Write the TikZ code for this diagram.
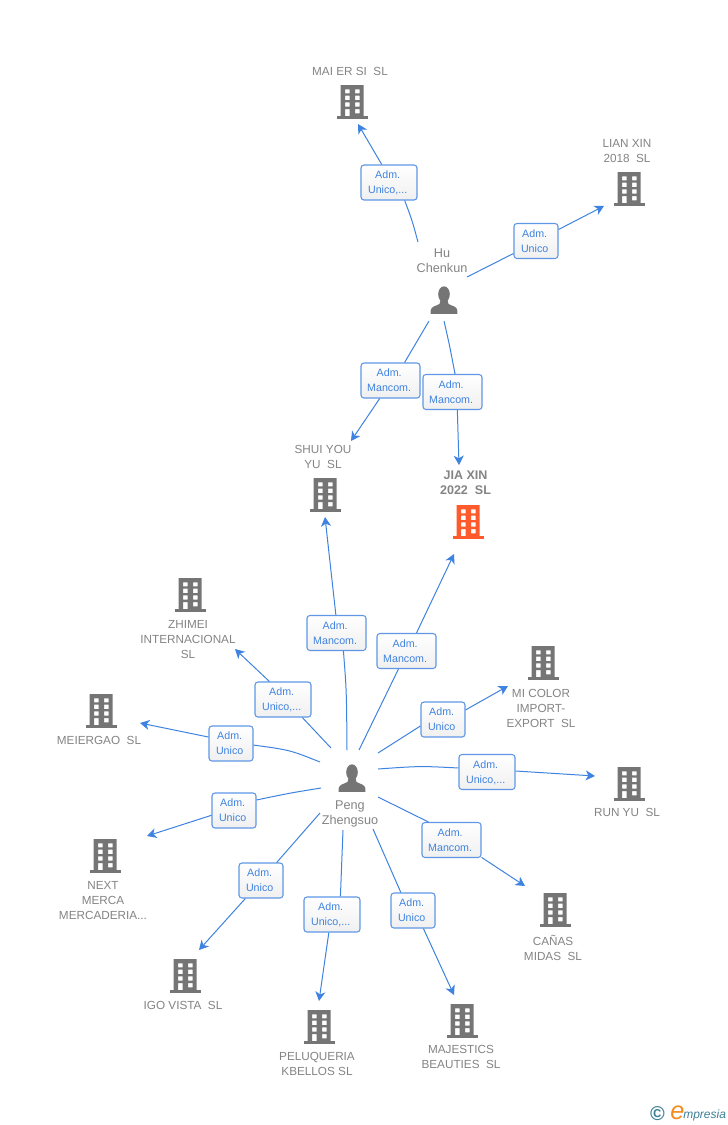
\documentclass[tikz,border=0pt]{standalone}
\usepackage{fontspec}
\setmainfont{Liberation Sans}
\usetikzlibrary{arrows.meta}
\definecolor{icongray}{HTML}{757575}
\definecolor{textgray}{HTML}{848484}
\definecolor{hotorange}{HTML}{FF5A2C}
\definecolor{linkblue}{HTML}{3F83E0}
\definecolor{boxblue}{HTML}{5F97E6}
\definecolor{logoteal}{HTML}{3F7F96}
\definecolor{logoorange}{HTML}{F58A1F}
\tikzset{
  x=0.75pt,y=-0.75pt,
  link/.style={draw=linkblue,line width=0.75pt},
  linkarrow/.style={link,-{Stealth[length=7pt,width=7.5pt,inset=2pt]}},
  role/.style={draw=boxblue,line width=0.8pt,rounded corners=2.2pt,top color=white,bottom color=black!6,
    text=linkblue,inner sep=0pt,minimum height=26.25pt,
    font=\fontsize{8}{11.25}\selectfont},
  roleS/.style={role,minimum width=33pt},
  roleM/.style={role,minimum width=42pt},
  roleL/.style={role,minimum width=44.25pt},
  company/.style={text=textgray,inner sep=0pt,align=center,font=\fontsize{8.8}{11.25}\selectfont},
  hotcompany/.style={company,font=\fontsize{9.4}{11.25}\selectfont\bfseries},
  personname/.style={text=textgray,inner sep=0pt,align=center,font=\fontsize{9.5}{11.25}\selectfont},
}
\newcommand{\roletext}[2]{\raisebox{-0.7pt}[\height][\depth]{\begin{tabular}{@{}c@{}}#1\\#2\end{tabular}}\hspace*{2pt}}
\newcommand{\bldg}[3]{%
  \begin{scope}[shift={(#1,#2)}]
    \fill[#3,even odd rule]
      (-11.3,0) rectangle (11.5,31.5)
      (-7,4.3) rectangle (-2.3,8.3) (3,4.3) rectangle (7.7,8.3)
      (-7,10.7) rectangle (-2.3,15) (3,10.7) rectangle (7.7,15)
      (-7,17.3) rectangle (-2.3,21.7) (3,17.3) rectangle (7.7,21.7)
      (-7,24) rectangle (-2.3,31.5) (3,24) rectangle (7.7,28.3);
    \fill[#3] (-15.3,31.3) rectangle (16.3,33.8);
  \end{scope}}
\newcommand{\persona}[2]{%
  \begin{scope}[shift={(#1,#2)}]
    \fill[icongray] (0,7.8) ellipse[x radius=5.8,y radius=8];
    \fill[icongray] (-13.3,27.3) -- (-13.3,24) .. controls (-13.3,20) and (-8,19.5) .. (-4.5,17.5)
      -- (-3,12) -- (3,12) -- (4.5,17.5) .. controls (8,19.5) and (13.3,20) .. (13.3,24) -- (13.3,27.3) -- cycle;
  \end{scope}}
\begin{document}
\begin{tikzpicture}
\path[use as bounding box,fill=white] (0,0) rectangle (728,1125);

% icons
\bldg{352}{85}{icongray}
\bldg{629}{172}{icongray}
\bldg{325}{478}{icongray}
\bldg{468}{505}{hotorange}
\bldg{190}{578}{icongray}
\bldg{101}{694}{icongray}
\bldg{105}{839}{icongray}
\bldg{185}{959}{icongray}
\bldg{319}{1010}{icongray}
\bldg{462}{1004}{icongray}
\bldg{555}{893}{icongray}
\bldg{629}{767}{icongray}
\bldg{543}{646}{icongray}
\persona{444}{286.5}
\persona{352}{764.5}

% names
\node[company] (maier) at (350,71.5) {MAI ER SI\ \ SL};
\node[company] (lian) at (627,151) {LIAN XIN\\2018\ \ SL};
\node[company] (shui) at (323,457) {SHUI YOU\\YU\ \ SL};
\node[hotcompany] (jia) at (465.5,483) {JIA XIN\\2022\ \ SL};
\node[company] (zhimei) at (188,639.5) {ZHIMEI\\INTERNACIONAL\\SL};
\node[company] (meier) at (99,740.5) {MEIERGAO\ \ SL};
\node[company] (next) at (103,900.5) {NEXT\\MERCA\\MERCADERIA...};
\node[company] (igo) at (183,1005.5) {IGO VISTA\ \ SL};
\node[company] (pelu) at (317,1064) {PELUQUERIA\\KBELLOS SL};
\node[company] (maje) at (461,1057) {MAJESTICS\\BEAUTIES\ \ SL};
\node[company] (canas) at (553,948) {CAÑAS\\MIDAS\ \ SL};
\node[company] (runyu) at (627,812.5) {RUN YU\ \ SL};
\node[company] (micolor) at (541,708.5) {MI COLOR\\IMPORT-\\EXPORT\ \ SL};
\node[personname] (hu) at (442,261) {Hu\\Chenkun};
\node[personname] (peng) at (350,814) {Peng\\Zhengsuo};

% role boxes
\node[roleM] (r1) at (389,182.5) {\roletext{Adm.}{Unico,...}};
\node[roleS] (r2) at (536,241) {\roletext{Adm.}{Unico}};
\node[roleL] (r3) at (390.5,380.5) {\roletext{Adm.}{Mancom.}};
\node[roleL] (r4) at (452.5,392) {\roletext{Adm.}{Mancom.}};
\node[roleL] (r5) at (336.5,633) {\roletext{Adm.}{Mancom.}};
\node[roleL] (r6) at (406.5,651) {\roletext{Adm.}{Mancom.}};
\node[roleM] (r7) at (283,699.5) {\roletext{Adm.}{Unico,...}};
\node[roleS] (r8) at (231,743.5) {\roletext{Adm.}{Unico}};
\node[roleS] (r9) at (234,810.5) {\roletext{Adm.}{Unico}};
\node[roleS] (r10) at (261,880.5) {\roletext{Adm.}{Unico}};
\node[roleM] (r11) at (332,914.5) {\roletext{Adm.}{Unico,...}};
\node[roleS] (r12) at (413,910.5) {\roletext{Adm.}{Unico}};
\node[roleL] (r13) at (451.5,840) {\roletext{Adm.}{Mancom.}};
\node[roleM] (r14) at (487,772) {\roletext{Adm.}{Unico,...}};
\node[roleS] (r15) at (443,719.5) {\roletext{Adm.}{Unico}};

% connector free ends
\coordinate (s1) at (418,242);   \coordinate (e1) at (358,124);
\coordinate (s2) at (467,277);   \coordinate (e2) at (604,206);
\coordinate (s3) at (429,321);   \coordinate (e3) at (351,441);
\coordinate (s4) at (444,321);   \coordinate (e4) at (459,465);
\coordinate (s5) at (347,750);   \coordinate (e5) at (325,517);
\coordinate (s6) at (359,750);   \coordinate (e6) at (454,554);
\coordinate (s7) at (331,748);   \coordinate (e7) at (235,649);
\coordinate (s8) at (320,762);   \coordinate (e8) at (140,723);
\coordinate (s9) at (321,788);   \coordinate (e9) at (147,836);
\coordinate (s10) at (320,813);  \coordinate (e10) at (199,950);
\coordinate (s11) at (343,830);  \coordinate (e11) at (319,1001);
\coordinate (s12) at (373,829);  \coordinate (e12) at (454,995);
\coordinate (s13) at (378,797);  \coordinate (e13) at (525,886);
\coordinate (s14) at (378,769);  \coordinate (e14) at (595,776);
\coordinate (s15) at (378,753);  \coordinate (e15) at (508,686);

% connectors
\draw[link] (s1) .. controls (412,220) .. (r1.-49);
\draw[linkarrow] (r1.112) -- (e1);
\draw[link] (s2) -- (r2.209);
\draw[linkarrow] (r2.27) -- (e2);
\draw[link] (s3) -- (r3.52);
\draw[linkarrow] (r3.239) -- (e3);
\draw[link] (s4) .. controls (449.5,345) .. (r4.82);
\draw[linkarrow] (r4.285) -- (e4);
\draw[link] (s5) .. controls (346.5,690) .. (r5.291);
\draw[linkarrow] (r5.92) -- (e5);
\draw[link] (s6) -- (r6.246);
\draw[linkarrow] (r6.61) -- (e6);
\draw[link] (s7) -- (r7.-43);
\draw[linkarrow] (r7.127) -- (e7);
\draw[link] (s8) .. controls (290,750) .. (r8.-4);
\draw[linkarrow] (r8.164) -- (e8);
\draw[link] (s9) .. controls (290,793) .. (r9.25);
\draw[linkarrow] (r9.192) -- (e9);
\draw[link] (s10) -- (r10.49);
\draw[linkarrow] (r10.229) -- (e10);
\draw[link] (s11) -- (r11.65);
\draw[linkarrow] (r11.260) -- (e11);
\draw[link] (s12) -- (r12.124);
\draw[linkarrow] (r12.-60) -- (e12);
\draw[link] (s13) -- (r13.142);
\draw[linkarrow] (r13.-30) -- (e13);
\draw[link] (s14) .. controls (420,766) .. (r14.172);
\draw[linkarrow] (r14.2) -- (e14);
\draw[link] (s15) -- (r15.196);
\draw[linkarrow] (r15.23) -- (e15);

% logo
\node[text=logoteal,inner sep=0pt,font=\bfseries\fontsize{15}{15}\selectfont] (copyr) at (657.5,1114) {©};
\node[text=logoorange,inner sep=0pt,font=\itshape\fontsize{19}{19}\selectfont,anchor=base] (logoe) at (677.5,1119) {e};
\node[text=logoteal,inner sep=0pt,font=\itshape\fontsize{9}{9}\selectfont,anchor=base west] (logot) at (683,1118) {mpresia};
\end{tikzpicture}
\end{document}
